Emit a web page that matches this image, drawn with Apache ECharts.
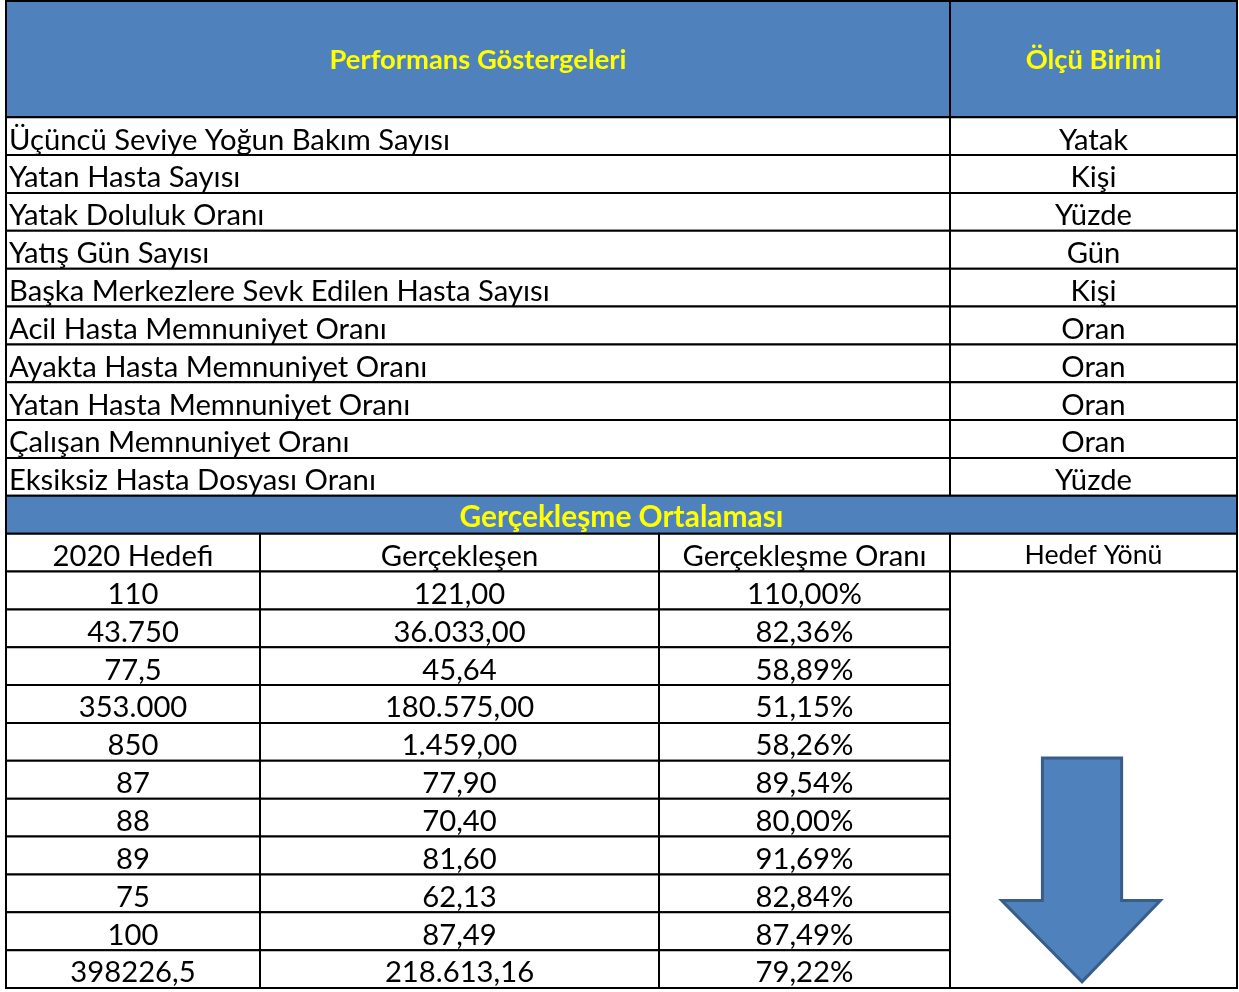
<!DOCTYPE html>
<html><head><meta charset="utf-8">
<script src="https://cdn.jsdelivr.net/npm/echarts@6/dist/echarts.min.js"></script>
<style>html,body{margin:0;padding:0;background:#fff}#c{width:1239px;height:992px}</style>
</head><body><div id="c"></div>
<script>
// ---- data ----
const headerTitles = ['Performans Göstergeleri', 'Ölçü Birimi'];
const indicators = [
  'Üçüncü Seviye Yoğun Bakım Sayısı',
  'Yatan Hasta Sayısı',
  'Yatak Doluluk Oranı',
  'Yatış Gün Sayısı',
  'Başka Merkezlere Sevk Edilen Hasta Sayısı',
  'Acil Hasta Memnuniyet Oranı',
  'Ayakta Hasta Memnuniyet Oranı',
  'Yatan Hasta Memnuniyet Oranı',
  'Çalışan Memnuniyet Oranı',
  'Eksiksiz Hasta Dosyası Oranı'
];
const units = ['Yatak', 'Kişi', 'Yüzde', 'Gün', 'Kişi', 'Oran', 'Oran', 'Oran', 'Oran', 'Yüzde'];
const sectionTitle = 'Gerçekleşme Ortalaması';
const columnHeaders = ['2020 Hedefi', 'Gerçekleşen', 'Gerçekleşme Oranı', 'Hedef Yönü'];
const targets = ['110', '43.750', '77,5', '353.000', '850', '87', '88', '89', '75', '100', '398226,5'];
const actuals = ['121,00', '36.033,00', '45,64', '180.575,00', '1.459,00', '77,90', '70,40', '81,60', '62,13', '87,49', '218.613,16'];
const rates = ['110,00%', '82,36%', '58,89%', '51,15%', '58,26%', '89,54%', '80,00%', '91,69%', '82,84%', '87,49%', '79,22%'];
const targetDirection = 'down';

// ---- layout (table units) ----
const FONT = 'Lato';
const topCols = [0, 944, 1231];
const botCols = [0, 254, 653, 944, 1231];
const headH = 3.07;
const BLUE = '#4F81BD', YELLOW = '#FFFF00';

const ctx = document.createElement('canvas').getContext('2d');
function fit(weight, sample, target) {
  ctx.font = weight + ' 100px ' + FONT;
  return 100 * target / ctx.measureText(sample).width;
}
const bodySize = fit('normal', indicators[0], 441);
const headSize = fit('bold', headerTitles[0], 297);
const secSize = fit('bold', sectionTitle, 324);
const smallSize = fit('normal', columnHeaders[3], 138);

const cells = [];
function add(x0, x1, y0, y1, text, kind) { cells.push({x0, x1, y0, y1, text, kind}); }
// header
add(topCols[0], topCols[1], 0, headH, headerTitles[0], 'head');
add(topCols[1], topCols[2], 0, headH, headerTitles[1], 'head');
indicators.forEach((t, i) => {
  add(topCols[0], topCols[1], headH + i, headH + i + 1, t, 'label');
  add(topCols[1], topCols[2], headH + i, headH + i + 1, units[i], 'center');
});
let y = headH + indicators.length;
add(0, 1231, y, y + 1, sectionTitle, 'sec');
y += 1;
columnHeaders.forEach((t, i) => add(botCols[i], botCols[i + 1], y, y + 1, t, i === 3 ? 'small' : 'center'));
y += 1;
targets.forEach((t, j) => {
  add(botCols[0], botCols[1], y + j, y + j + 1, t, 'center');
  add(botCols[1], botCols[2], y + j, y + j + 1, actuals[j], 'center');
  add(botCols[2], botCols[3], y + j, y + j + 1, rates[j], 'center');
});
add(botCols[3], botCols[4], y, y + targets.length, '', 'arrow');
const totalH = y + targets.length;

function renderItem(params, api) {
  const c = cells[params.dataIndex];
  const p0 = api.coord([api.value(0), api.value(2)]);
  const p1 = api.coord([api.value(1), api.value(3)]);
  const x = p0[0], yy = p0[1], w = p1[0] - p0[0], h = p1[1] - p0[1];
  const blue = c.kind === 'head' || c.kind === 'sec';
  const children = [{type: 'rect', shape: {x, y: yy, width: w, height: h},
    style: {fill: blue ? BLUE : '#fff', stroke: '#000', lineWidth: 2}}];
  if (c.text) {
    let size = bodySize, weight = 'normal', fill = '#000', dy = 4;
    if (c.kind === 'head') { size = headSize; weight = 'bold'; fill = YELLOW; dy = 1; }
    if (c.kind === 'sec') { size = secSize; weight = 'bold'; fill = YELLOW; dy = 3; }
    if (c.kind === 'small') { size = smallSize; dy = 3; }
    const left = c.kind === 'label';
    children.push({type: 'text', x: left ? x + 3 : x + w / 2, y: yy + h / 2 + dy,
      style: {text: c.text, fill, fontFamily: FONT, fontSize: size, fontWeight: weight,
        align: left ? 'left' : 'center', verticalAlign: 'middle',
        textAlign: left ? 'left' : 'center', textVerticalAlign: 'middle'}});
  }
  if (c.kind === 'arrow' && targetDirection === 'down') {
    const P = (fx, fy) => [x + fx * w, yy + fy * h];
    children.push({type: 'polygon', shape: {points: [
      P(0.322, 0.448), P(0.598, 0.448), P(0.598, 0.79), P(0.733, 0.79),
      P(0.46, 0.985), P(0.18, 0.79), P(0.322, 0.79)]},
      style: {fill: BLUE, stroke: '#385D8A', lineWidth: 3, lineJoin: 'miter'}});
  }
  return {type: 'group', children};
}

const chart = echarts.init(document.getElementById('c'), null, {renderer: 'canvas'});
chart.setOption({
  animation: false,
  grid: {left: 6, top: 1, width: 1231, height: 987},
  xAxis: {type: 'value', min: 0, max: 1231, show: false},
  yAxis: {type: 'value', min: 0, max: totalH, inverse: true, show: false},
  series: [{
    type: 'custom', renderItem, clip: false,
    encode: {x: [0, 1], y: [2, 3]},
    data: cells.map(c => [c.x0, c.x1, c.y0, c.y1])
  }]
});
</script></body></html>
